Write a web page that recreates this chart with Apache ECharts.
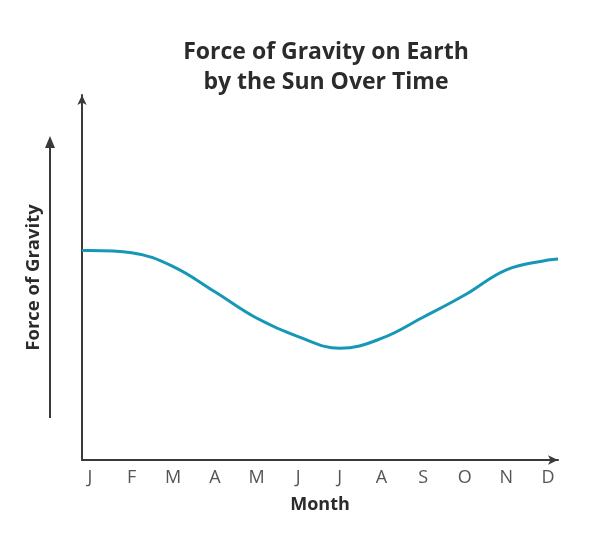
<!DOCTYPE html>
<html>
<head>
<meta charset="utf-8">
<script src="https://cdn.jsdelivr.net/npm/echarts@6/dist/echarts.min.js"></script>
<style>
  html, body { margin: 0; padding: 0; background: #fff; }
  #chart { width: 602px; height: 541px; }
</style>
</head>
<body>
<div id="chart"></div>
<script>
// month letters shown under the axis
var months = ['J', 'F', 'M', 'A', 'M', 'J', 'J', 'A', 'S', 'O', 'N', 'D'];
// position of each point (0 = January ... 11 = December), curve runs a bit past both ends
var monthPos = [-0.19, 0, 1, 2, 3, 4, 5, 6, 7, 8, 9, 10, 11, 11.24];
// relative force of gravity
var force = [57.4, 57.4, 56.8, 53.0, 46.1, 38.9, 33.8, 30.6, 33.3, 39.1, 45.2, 52.1, 54.8, 55.1];

var points = [];
for (var i = 0; i < monthPos.length; i++) {
  points.push([monthPos[i], force[i]]);
}

var axisColor = '#3a3a3a';
var font = 'Open Sans';

var chart = echarts.init(document.getElementById('chart'));
var option = {
  animation: false,
  title: {
    text: 'Force of Gravity on Earth\nby the Sun Over Time',
    left: 321,
    textAlign: 'center',
    top: 32,
    textStyle: {
      fontFamily: font,
      fontSize: 23,
      fontWeight: 'bold',
      color: '#2b2b2b',
      lineHeight: 30
    }
  },
  grid: {
    left: 82,
    right: 44,
    top: 95,
    bottom: 81
  },
  xAxis: {
    type: 'value',
    min: -0.19,
    max: 11.24,
    name: 'Month',
    nameLocation: 'middle',
    nameGap: 36,
    nameTextStyle: {
      fontFamily: font,
      fontSize: 18,
      fontWeight: 'bold',
      color: '#2b2b2b'
    },
    splitLine: { show: false },
    axisTick: { show: false },
    axisLine: {
      onZero: false,
      lineStyle: { color: axisColor, width: 2 },
      symbol: ['none', 'arrow'],
      symbolSize: [7, 10]
    },
    axisLabel: {
      customValues: [0, 1, 2, 3, 4, 5, 6, 7, 8, 9, 10, 11],
      formatter: function (v) { return months[Math.round(v)]; },
      margin: 9,
      fontFamily: font,
      fontSize: 18,
      color: '#555'
    }
  },
  yAxis: {
    type: 'value',
    min: 0,
    max: 100,
    name: 'Force of Gravity',
    nameLocation: 'middle',
    nameGap: 39,
    nameRotate: 90,
    nameTextStyle: {
      fontFamily: font,
      fontSize: 18.5,
      fontWeight: 'bold',
      color: '#2b2b2b'
    },
    splitLine: { show: false },
    axisTick: { show: false },
    axisLabel: { show: false },
    axisLine: {
      onZero: false,
      lineStyle: { color: axisColor, width: 2 },
      symbol: ['none', 'arrow'],
      symbolSize: [7, 10]
    }
  },
  // the loose arrow beside the y-axis title
  graphic: [
    {
      type: 'line',
      shape: { x1: 50, y1: 418, x2: 50, y2: 145 },
      style: { stroke: axisColor, lineWidth: 2 }
    },
    {
      type: 'polygon',
      shape: { points: [[50, 136], [45, 148], [55, 148]] },
      style: { fill: axisColor }
    }
  ],
  series: [
    {
      type: 'line',
      data: points,
      smooth: 0.4,
      showSymbol: false,
      lineStyle: { color: '#1597b6', width: 3 }
    }
  ]
};
chart.setOption(option);
</script>
</body>
</html>
